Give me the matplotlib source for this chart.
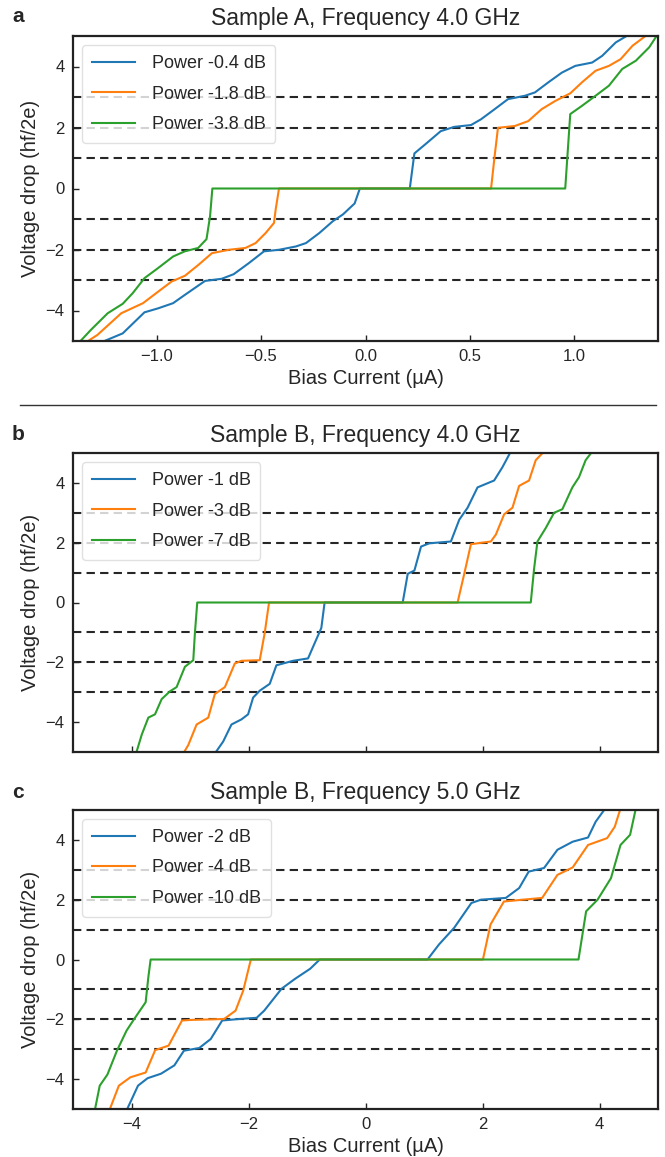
import numpy as np
import matplotlib
matplotlib.use("Agg")
import matplotlib.pyplot as plt
from matplotlib.lines import Line2D

plt.rcParams['font.family'] = ['Liberation Sans', 'DejaVu Sans']
plt.rcParams['text.color'] = '#262626'
plt.rcParams['axes.labelcolor'] = '#262626'
plt.rcParams['xtick.color'] = '#262626'
plt.rcParams['ytick.color'] = '#262626'

# ---- panel a: Sample A, 4.0 GHz (x in uA, y in hf/2e) ----
a_labels = ["Power -0.4 dB", "Power -1.8 dB", "Power -3.8 dB"]
a_x = [
    [-1.267, -1.162, -1.058, -0.993, -0.921, -0.865, -0.768, -0.688, -0.631, -0.559,
     -0.486, -0.414, -0.333, -0.285, -0.221, -0.156, -0.108, -0.052, -0.027,
     0.212, 0.234, 0.295, 0.360, 0.424, 0.505, 0.553, 0.618, 0.682, 0.763, 0.811,
     0.875, 0.940, 1.004, 1.085, 1.133, 1.198, 1.262],
    [-1.339, -1.283, -1.169, -1.065, -0.992, -0.928, -0.864, -0.799, -0.735, -0.655,
     -0.575, -0.526, -0.478, -0.438, -0.430, -0.414,
     0.601, 0.618, 0.634, 0.715, 0.779, 0.843, 0.908, 0.980, 1.036, 1.101, 1.165,
     1.221, 1.278, 1.350],
    [-1.371, -1.315, -1.234, -1.162, -1.114, -1.058, -0.993, -0.921, -0.865, -0.801,
     -0.761, -0.744, -0.733,
     0.956, 0.980, 1.036, 1.101, 1.165, 1.229, 1.294, 1.358, 1.398],
]
a_y = [
    [-5.05, -4.75, -4.06, -3.93, -3.76, -3.49, -3.03, -2.96, -2.81, -2.45,
     -2.06, -2.01, -1.90, -1.79, -1.46, -1.07, -0.85, -0.49, 0.0,
     0.0, 1.15, 1.50, 1.88, 2.02, 2.08, 2.27, 2.60, 2.93, 3.04, 3.15,
     3.48, 3.80, 4.02, 4.13, 4.35, 4.79, 5.05],
    [-5.05, -4.80, -4.09, -3.76, -3.38, -3.05, -2.86, -2.50, -2.12, -2.01,
     -1.95, -1.79, -1.46, -1.13, -0.69, 0.0,
     0.0, 1.06, 1.99, 2.05, 2.21, 2.60, 2.87, 3.12, 3.48, 3.86, 4.02,
     4.24, 4.68, 5.05],
    [-5.05, -4.64, -4.09, -3.78, -3.43, -2.94, -2.61, -2.23, -2.06, -1.95,
     -1.66, -0.91, 0.0,
     0.0, 2.44, 2.71, 3.04, 3.37, 3.92, 4.19, 4.63, 5.05],
]

# ---- panel b: Sample B, 4.0 GHz ----
b_labels = ["Power -1 dB", "Power -3 dB", "Power -7 dB"]
b_x = [
    [-2.575, -2.433, -2.291, -2.121, -2.007, -1.921, -1.808, -1.637, -1.523, -1.239,
     -0.982, -0.869, -0.755, -0.699,
     0.636, 0.722, 0.836, 0.949, 1.091, 1.460, 1.603, 1.745, 1.915, 2.199, 2.342, 2.484],
    [-3.115, -3.030, -2.887, -2.688, -2.575, -2.404, -2.234, -2.121, -1.808, -1.723,
     -1.649,
     1.574, 1.688, 1.802, 2.143, 2.228, 2.370, 2.512, 2.626, 2.796, 2.910, 3.052],
    [-3.922, -3.825, -3.712, -3.598, -3.484, -3.342, -3.229, -3.087, -2.944, -2.916,
     -2.876,
     2.825, 2.882, 2.939, 3.081, 3.223, 3.365, 3.536, 3.649, 3.763, 3.876],
]
b_y = [
    [-5.05, -4.65, -4.08, -3.91, -3.74, -3.18, -2.95, -2.72, -2.10, -1.95,
     -1.87, -1.36, -0.85, 0.0,
     0.0, 0.96, 1.07, 1.87, 1.98, 2.04, 2.77, 3.17, 3.85, 4.08, 4.53, 5.05],
    [-5.05, -4.77, -4.08, -3.85, -3.06, -2.83, -2.04, -1.95, -1.93, -1.02,
     0.0,
     0.0, 0.96, 1.95, 2.04, 2.27, 2.95, 3.17, 3.90, 4.08, 4.76, 5.05],
    [-5.05, -4.42, -3.85, -3.74, -3.23, -2.97, -2.83, -2.15, -1.93, -1.02,
     0.0,
     0.0, 1.13, 2.04, 2.49, 3.00, 3.12, 3.85, 4.19, 4.76, 5.05],
]

# ---- panel c: Sample B, 5.0 GHz ----
c_labels = ["Power -2 dB", "Power -4 dB", "Power -10 dB"]
c_x = [
    [-4.085, -3.889, -3.725, -3.496, -3.267, -3.104, -2.842, -2.646, -2.450, -2.156,
     -1.861, -1.731, -1.436, -1.207, -0.946, -0.782,
     1.060, 1.255, 1.516, 1.810, 1.974, 2.399, 2.627, 2.790, 3.052, 3.281, 3.542,
     3.804, 3.935, 4.098],
    [-4.379, -4.216, -4.020, -3.758, -3.595, -3.366, -3.137, -2.973, -2.417, -2.221,
     -2.090, -1.960,
     2.007, 2.137, 2.366, 3.020, 3.281, 3.542, 3.804, 4.131, 4.261, 4.359],
    [-4.628, -4.543, -4.412, -4.249, -4.085, -3.954, -3.758, -3.712, -3.673,
     3.641, 3.771, 3.967, 4.196, 4.359, 4.523, 4.621],
]
c_y = [
    [-5.05, -4.22, -3.97, -3.82, -3.54, -3.05, -2.96, -2.66, -2.04, -1.99,
     -1.95, -1.71, -0.98, -0.65, -0.31, 0.0,
     0.0, 0.50, 1.06, 1.89, 2.00, 2.06, 2.39, 2.94, 3.06, 3.67, 3.94,
     4.08, 4.61, 5.05],
    [-5.05, -4.22, -3.94, -3.78, -3.03, -2.88, -2.04, -2.02, -1.99, -1.71,
     -1.04, 0.0,
     0.0, 1.17, 1.94, 2.06, 2.83, 3.08, 3.83, 4.06, 4.44, 5.05],
    [-5.05, -4.22, -3.85, -3.05, -2.38, -1.99, -1.43, -0.59, 0.0,
     0.0, 1.61, 2.00, 2.72, 3.83, 4.17, 5.05],
]

steps = [-3, -2, -1, 1, 2, 3]

W, H = 665, 1157
fig = plt.figure(figsize=(W / 100, H / 100), dpi=100)


def make_panel(rect, xs, ys, labels, title, letter, letter_y, xlim, xticks, show_xlabels):
    ax = fig.add_axes(rect)
    for s in steps:
        ax.axhline(s, color='black', ls='--', lw=1.5, dashes=(4, 2.5), alpha=0.85, zorder=1)
    for i, (x, y, lab) in enumerate(zip(xs, ys, labels)):
        ax.plot(x, y, color='C%d' % i, lw=1.5, label=lab, zorder=2)
    ax.set_xlim(*xlim)
    ax.set_ylim(-5, 5)
    ax.set_yticks([-4, -2, 0, 2, 4])
    ax.set_xticks(xticks)
    if show_xlabels:
        ax.set_xlabel("Bias Current (µA)", fontsize=14.5, labelpad=3)
    else:
        ax.set_xticklabels([])
    ax.set_ylabel("Voltage drop (hf/2e)", fontsize=14.5)
    ax.tick_params(direction='in', length=4, width=1, labelsize=12, pad=6)
    for sp in ax.spines.values():
        sp.set_linewidth(1.6)
        sp.set_color('#222222')
    ax.set_title(title, fontsize=16.5, pad=8)
    leg = ax.legend(loc='upper left', fontsize=13, framealpha=0.8,
                    handlelength=2.4, handletextpad=0.9, labelspacing=0.75,
                    borderpad=0.55)
    leg.get_frame().set_edgecolor('0.85')
    fig.text(12 / W, 1 - letter_y / H, letter, fontsize=15,
             fontweight='bold', ha='left', va='center')
    return ax


left = 73 / W
width = 585 / W
make_panel([left, (H - 341) / H, width, 305 / H], a_x, a_y, a_labels,
           "Sample A, Frequency 4.0 GHz", "a", 17, (-1.4, 1.4),
           [-1.0, -0.5, 0.0, 0.5, 1.0], True)
make_panel([left, (H - 752) / H, width, 299 / H], b_x, b_y, b_labels,
           "Sample B, Frequency 4.0 GHz", "b", 434, (-5, 5),
           [-4, -2, 0, 2, 4], False)
make_panel([left, (H - 1109) / H, width, 299 / H], c_x, c_y, c_labels,
           "Sample B, Frequency 5.0 GHz", "c", 792, (-5, 5),
           [-4, -2, 0, 2, 4], True)

fig.add_artist(Line2D([20 / W, 656 / W], [1 - 405 / H, 1 - 405 / H],
                      color='#333333', lw=1.0))

fig.savefig("out.png", dpi=100)
